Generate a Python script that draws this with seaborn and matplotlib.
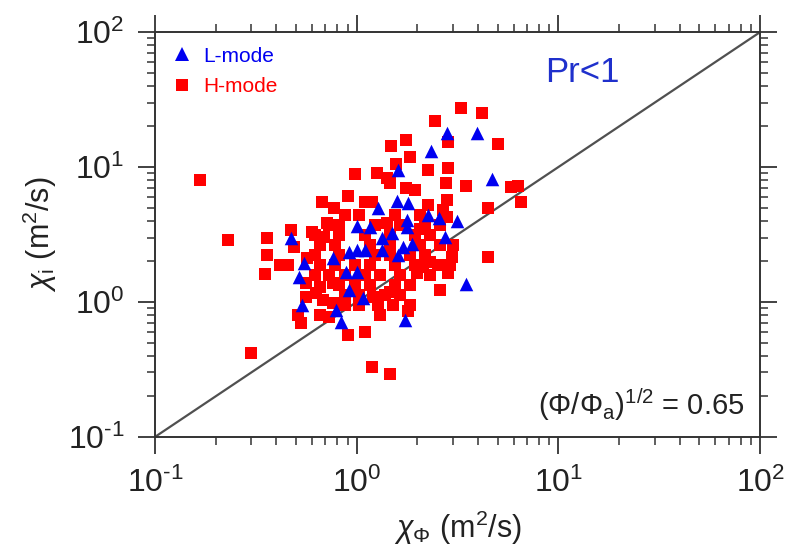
import matplotlib
matplotlib.use("Agg")
import matplotlib.pyplot as plt
import matplotlib.ticker as mticker
from matplotlib.lines import Line2D
import pandas as pd
import seaborn as sns

# L-mode discharges: chi_phi (m^2/s), chi_i (m^2/s)
l_chi_phi = [0.47, 0.55, 0.52, 0.535, 0.76, 0.79, 0.84, 0.92, 0.88, 1.0,
             1.07, 0.92, 1.0, 1.1, 1.33, 1.33, 1.5, 1.6, 1.7, 1.87,
             1.77, 1.77, 2.25, 2.55, 3.15, 2.73, 1.73, 3.5, 1.0, 1.16,
             1.27, 1.58, 1.8, 1.6, 2.33, 2.8, 3.95, 4.7]
l_chi_i = [3.0, 1.95, 1.53, 0.95, 2.1, 0.87, 0.71, 1.23, 1.67, 1.67,
           1.07, 2.34, 2.43, 2.43, 2.43, 3.0, 3.25, 2.23, 2.55, 2.7,
           4.05, 3.6, 4.4, 4.2, 3.95, 3.03, 0.74, 1.36, 3.65, 3.6,
           4.95, 5.6, 5.4, 9.5, 13.1, 17.8, 17.8, 8.2]

# H-mode discharges: chi_phi (m^2/s), chi_i (m^2/s)
h_chi_phi = [0.167, 0.23, 0.30, 0.36, 0.36, 0.35, 0.415, 0.455, 0.47, 0.60,
             0.49, 0.57, 0.67, 0.77, 0.71, 0.69, 0.56, 0.655, 0.76, 0.56,
             0.68, 0.63, 0.76, 0.51, 0.53, 0.655, 0.90, 0.98, 1.26, 1.41,
             1.46, 1.48, 1.75, 1.83, 1.56, 2.44, 2.85, 3.3, 4.2, 5.0,
             2.25, 2.83, 1.75, 1.94, 2.78, 3.5, 5.8, 6.3, 6.5, 4.45,
             2.25, 2.8, 2.67, 1.1, 1.19, 1.42, 2.05, 2.8, 3.0, 2.95,
             2.9, 2.82, 4.45, 2.58, 2.3, 2.12, 1.98, 1.79, 1.46, 1.51,
             1.30, 1.27, 1.2, 0.90, 1.10, 1.19, 1.46, 0.73,
             0.87, 1.03, 1.54, 2.05,
             0.73, 0.82, 1.23, 1.63, 2.17, 2.58,
             0.62, 0.82, 1.10, 1.46, 1.94, 2.30,
             0.655, 0.78, 1.16, 1.46, 2.05, 2.58,
             0.62, 0.82, 1.23, 1.46, 1.83, 2.17,
             0.655, 0.78, 0.98, 1.16, 1.54, 1.94, 2.52,
             0.62, 0.73, 0.87, 1.10, 1.30, 1.63, 2.30,
             0.82, 0.98, 1.16, 1.54, 1.83,
             0.87, 1.03, 1.38, 1.63,
             0.87, 1.03, 1.83]
h_chi_i = [8.0, 2.9, 0.42, 3.0, 2.23, 1.6, 1.88, 1.88, 3.4, 3.3,
           2.55, 2.1, 5.5, 5.0, 3.85, 3.05, 1.38, 1.29, 1.38, 1.09,
           1.03, 1.17, 0.98, 0.80, 0.70, 0.80, 6.1, 8.9, 9.1, 8.3,
           7.6, 14.3, 15.8, 11.9, 10.5, 21.9, 15.3, 27.3, 25.0, 14.8,
           9.5, 9.8, 7.0, 6.8, 7.6, 7.2, 7.1, 7.2, 5.5, 5.0,
           5.2, 5.7, 4.8, 5.5, 5.5, 3.85, 3.5, 4.25, 2.64, 2.15,
           1.88, 1.64, 2.15, 1.23, 1.98, 1.82, 1.64, 0.86, 1.19, 0.95,
           0.80, 0.95, 1.09, 0.57, 0.60, 0.33, 0.29, 0.77,
           4.4, 4.4, 4.4, 4.4,
           3.72, 3.72, 3.72, 3.72, 3.72, 3.72,
           3.14, 3.14, 3.14, 3.14, 3.14, 3.14,
           2.64, 2.64, 2.64, 2.64, 2.64, 2.64,
           2.23, 2.23, 2.23, 2.23, 2.23, 2.23,
           1.88, 1.88, 1.88, 1.88, 1.88, 1.88, 1.88,
           1.58, 1.58, 1.58, 1.58, 1.58, 1.58, 1.58,
           1.34, 1.34, 1.34, 1.34, 1.34,
           1.13, 1.13, 1.13, 1.13,
           0.95, 0.95, 0.95]

# unity line chi_i = chi_phi
unity = [0.1, 100.0]
x_ticks = [0.1, 1, 10, 100]
y_ticks = [0.1, 1, 10, 100]
tick_labels = [r"$\mathregular{10^{\text{-}1}}$", r"$\mathregular{10^{0}}$",
               r"$\mathregular{10^{1}}$", r"$\mathregular{10^{2}}$"]
minor_subs = [2, 3, 4, 5, 6, 7, 8, 9]

sns.set_theme(style="ticks")
plt.rcParams["font.family"] = ["Liberation Sans", "DejaVu Sans"]
plt.rcParams["mathtext.fontset"] = "custom"
plt.rcParams["mathtext.rm"] = "Liberation Sans"
plt.rcParams["mathtext.it"] = "Liberation Sans:italic"
plt.rcParams["mathtext.bf"] = "Liberation Sans:bold"
plt.rcParams["axes.unicode_minus"] = False

df = pd.concat([
    pd.DataFrame({"chi_phi": h_chi_phi, "chi_i": h_chi_i, "mode": "H-mode"}),
    pd.DataFrame({"chi_phi": l_chi_phi, "chi_i": l_chi_i, "mode": "L-mode"}),
], ignore_index=True)

red = "#ff0000"
blue = "#0000f0"
ink = "#222222"
frame = "#333333"

fig = plt.figure(figsize=(7.91, 5.53), dpi=100)
ax = fig.add_axes([0.196, 0.21, 0.765, 0.732])

ax.plot(unity, unity, color="#505050", lw=1.6, zorder=1)

h_df = df[df["mode"] == "H-mode"]
l_df = df[df["mode"] == "L-mode"]
sns.scatterplot(data=h_df, x="chi_phi", y="chi_i", marker="s", color=red,
                s=74, linewidth=0, ax=ax, zorder=2, legend=False)
sns.scatterplot(data=l_df, x="chi_phi", y="chi_i", marker="^", color=blue,
                s=95, linewidth=0, ax=ax, zorder=3, legend=False)

ax.set_xscale("log")
ax.set_yscale("log")
ax.set_xlim(0.1, 100)
ax.set_ylim(0.1, 100)
ax.set_xticks(x_ticks, tick_labels)
ax.set_yticks(y_ticks, tick_labels)
ax.xaxis.set_minor_locator(mticker.LogLocator(base=10, subs=minor_subs,
                                              numticks=100))
ax.yaxis.set_minor_locator(mticker.LogLocator(base=10, subs=minor_subs,
                                              numticks=100))
ax.xaxis.set_minor_formatter(mticker.NullFormatter())
ax.yaxis.set_minor_formatter(mticker.NullFormatter())

for side in ["left", "right", "top", "bottom"]:
    ax.spines[side].set_visible(True)
    ax.spines[side].set_color(frame)
    ax.spines[side].set_linewidth(1.4)

ax.tick_params(which="major", direction="out", length=12, width=1.3,
               color=frame, labelsize=23, labelcolor=ink, pad=10,
               top=True, right=True, bottom=True, left=True,
               labeltop=False, labelright=False)
ax.tick_params(which="minor", direction="out", length=6, width=1.1,
               color=frame, top=True, right=True, bottom=True, left=True)

ax.set_xlabel(r"$\chi_{\Phi}\ (\mathrm{m}^{2}/\mathrm{s})$", fontsize=22,
              color=ink, labelpad=7)
ax.set_ylabel(r"$\chi_{\mathrm{i}}\ (\mathrm{m}^{2}/\mathrm{s})$", fontsize=22,
              color=ink, labelpad=6)

handles = [
    Line2D([], [], marker="^", color=blue, linestyle="none", markersize=10.5,
           markeredgewidth=0, label="L-mode"),
    Line2D([], [], marker="s", color=red, linestyle="none", markersize=9,
           markeredgewidth=0, label="H-mode"),
]
leg = ax.legend(handles=handles, loc="upper left", bbox_to_anchor=(0.0, 1.0),
                frameon=False, fontsize=15, handletextpad=0.4,
                labelspacing=0.55, handlelength=1.2, borderaxespad=0.3)
for txt, col in zip(leg.get_texts(), [blue, red]):
    txt.set_color(col)

ax.text(0.645, 0.90, "Pr<1", transform=ax.transAxes, fontsize=25,
        color="#1f30cc", ha="left", va="center")
ax.text(0.975, 0.054, r"$(\Phi/\Phi_{\mathrm{a}})^{1/2}$ = 0.65",
        transform=ax.transAxes, fontsize=21, color=ink, ha="right",
        va="baseline")

fig.savefig("out.png", dpi=100)
